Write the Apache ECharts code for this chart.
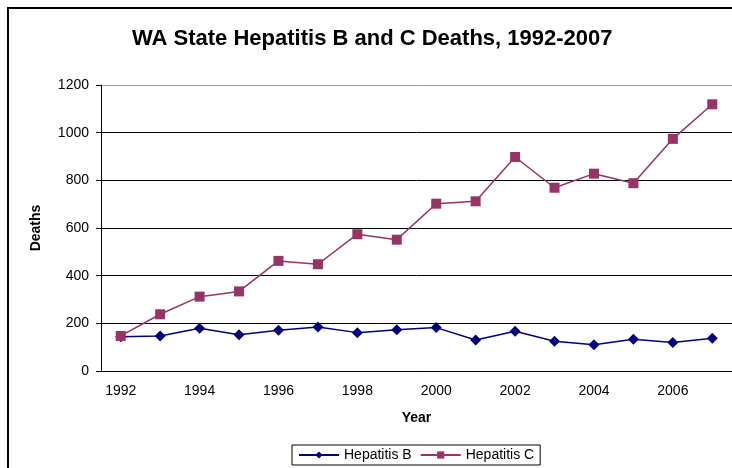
<!DOCTYPE html>
<html>
<head>
<meta charset="utf-8">
<script src="https://cdn.jsdelivr.net/npm/echarts@6/dist/echarts.min.js"></script>
<style>
  html, body { margin: 0; padding: 0; background: #fff; }
  #chart { width: 732px; height: 468px; }
</style>
</head>
<body>
<div id="chart"></div>
<script>
const years = ['1992', '1993', '1994', '1995', '1996', '1997', '1998', '1999',
  '2000', '2001', '2002', '2003', '2004', '2005', '2006', '2007'];
const hepB = [144, 147, 179, 152, 171, 185, 161, 173, 182, 130, 167, 125, 110, 133, 120, 137];
const hepC = [147, 238, 312, 334, 462, 448, 574, 551, 702, 712, 898, 769, 828, 788, 974, 1119];

const font = '"Liberation Sans", Arial, sans-serif';
const chart = echarts.init(document.getElementById('chart'), null, { renderer: 'canvas' });

chart.setOption({
  backgroundColor: '#fff',
  animation: false,
  textStyle: { fontFamily: font },
  // outer chart frame: only left and top edges are inside the picture
  graphic: [{
    type: 'polyline',
    shape: { points: [[8, 480], [8, 8], [740, 8]] },
    style: { fill: null, stroke: '#000', lineWidth: 2 },
    z: -1
  }],
  title: {
    text: 'WA State Hepatitis B and C Deaths, 1992-2007',
    left: 127,
    top: 23,
    textStyle: { fontFamily: font, fontSize: 22, fontWeight: 'bold', color: '#000' }
  },
  legend: {
    bottom: 3,
    left: 292,
    itemWidth: 40,
    itemHeight: 9,
    itemGap: 8,
    padding: [3, 6],
    borderColor: '#000',
    borderWidth: 1,
    textStyle: { fontFamily: font, fontSize: 14, color: '#000' },
    data: ['Hepatitis B', 'Hepatitis C']
  },
  grid: { left: 101, right: 0, top: 85, bottom: 97 },
  xAxis: {
    type: 'category',
    data: years,
    boundaryGap: true,
    name: 'Year',
    nameLocation: 'middle',
    nameGap: 40,
    nameTextStyle: { fontFamily: font, fontSize: 14, fontWeight: 'bold', color: '#000' },
    axisLine: { lineStyle: { color: '#000', width: 1 } },
    axisTick: { interval: 0, length: 5, lineStyle: { color: '#000' } },
    axisLabel: { interval: 1, margin: 13, fontSize: 14, color: '#000', fontFamily: font }
  },
  yAxis: {
    type: 'value',
    min: 0,
    max: 1200,
    interval: 200,
    name: 'Deaths',
    nameLocation: 'middle',
    nameRotate: 90,
    nameGap: 58,
    nameTextStyle: { fontFamily: font, fontSize: 14, fontWeight: 'bold', color: '#000' },
    axisLine: { show: true, lineStyle: { color: '#000', width: 1 } },
    axisTick: { show: true, length: 5, lineStyle: { color: '#000' } },
    axisLabel: { margin: 12, fontSize: 14, color: '#000', fontFamily: font, formatter: v => String(v) },
    splitLine: { lineStyle: { color: ['#000', '#000', '#000', '#000', '#000', '#000', '#999'], width: 1 } }
  },
  series: [
    {
      name: 'Hepatitis B',
      type: 'line',
      data: hepB,
      symbol: 'diamond',
      symbolSize: 11,
      color: '#000080',
      lineStyle: { color: '#000080', width: 1.5 },
      itemStyle: { color: '#000080' }
    },
    {
      name: 'Hepatitis C',
      type: 'line',
      data: hepC,
      symbol: 'rect',
      symbolSize: 10,
      color: '#993366',
      lineStyle: { color: '#993366', width: 1.5 },
      itemStyle: { color: '#993366' }
    }
  ]
});
</script>
</body>
</html>
